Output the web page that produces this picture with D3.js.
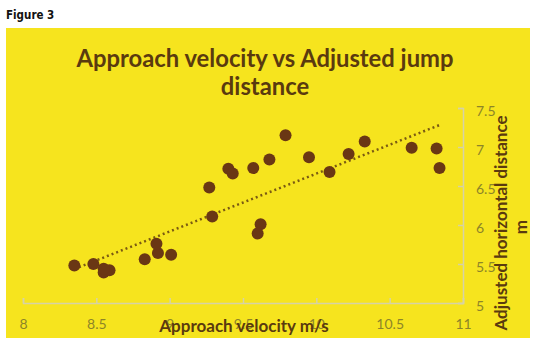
<!DOCTYPE html>
<html>
<head>
<meta charset="utf-8">
<script src="https://cdn.jsdelivr.net/npm/d3@7"></script>
<style>
html,body{margin:0;padding:0;background:#fff;}
svg{display:block;}
</style>
</head>
<body>
<svg id="chart" width="543" height="364"></svg>
<script>
// Data
const velocity = [8.35, 8.48, 8.55, 8.59, 8.55, 8.83, 8.92, 8.91, 9.01, 9.27, 9.29, 9.40, 9.43, 9.57, 9.68, 9.62, 9.60, 9.79, 9.95, 10.09, 10.22, 10.33, 10.65, 10.82, 10.84];
const distance = [5.48, 5.50, 5.39, 5.42, 5.44, 5.56, 5.64, 5.76, 5.62, 6.48, 6.11, 6.72, 6.66, 6.73, 6.84, 6.01, 5.89, 7.15, 6.87, 6.68, 6.91, 7.07, 6.99, 6.98, 6.73];
const xTicks = [8, 8.5, 9, 9.5, 10, 10.5, 11];
const yTicks = [5, 5.5, 6, 6.5, 7, 7.5];
const titleLines = ["Approach velocity vs Adjusted jump", "distance"];
const xTitle = "Approach velocity m/s";
const yTitle = "Adjusted horizontal distance";
const yUnit = "m";

const svg = d3.select("#chart");
const yellow = "#f6e41e";
const brown = "#6a3714";
const titleColor = "#5a3a0f";
const tickColor = "#8d8428";
const axisColor = "#d6d2a6";
const font = "Lato, 'Open Sans', sans-serif";

svg.append("text").attr("x", 6).attr("y", 19)
  .attr("font-family", "'Liberation Sans Narrow','DejaVu Sans Condensed',sans-serif")
  .attr("font-weight", "bold").attr("font-size", 11.5).attr("fill", "#111")
  .text("Figure 3");

svg.append("rect").attr("x", 6).attr("y", 28).attr("width", 524).attr("height", 310).attr("fill", yellow);

const x = d3.scaleLinear().domain([8, 11]).range([23, 463]);
const y = d3.scaleLinear().domain([5, 7.5]).range([303, 108]);

// title
const t = svg.append("text").attr("text-anchor", "middle")
  .attr("font-family", font).attr("font-weight", "bold")
  .attr("font-size", 23.8).attr("fill", titleColor);
titleLines.forEach((l, i) => t.append("tspan").attr("x", 265).attr("y", 67 + i * 28).text(l));

// x axis
const xAxis = svg.append("g").attr("transform", "translate(0,303)")
  .call(d3.axisBottom(x).tickValues(xTicks).tickSize(-5).tickFormat(d3.format("")));
xAxis.select(".domain").attr("stroke", axisColor).attr("stroke-width", 1.5);
xAxis.selectAll(".tick line").attr("stroke", axisColor).attr("stroke-width", 1.5);
xAxis.selectAll(".tick text").attr("font-family", font)
  .attr("font-size", 14).attr("fill", tickColor).attr("dy", "0.71em").attr("y", 16);

// y axis on right
const yAxis = svg.append("g").attr("transform", "translate(463,0)")
  .call(d3.axisRight(y).tickValues(yTicks).tickSize(-5).tickPadding(13).tickFormat(d3.format("")));
yAxis.select(".domain").attr("stroke", axisColor).attr("stroke-width", 1.5);
yAxis.selectAll(".tick line").attr("stroke", axisColor).attr("stroke-width", 1.5);
yAxis.selectAll(".tick text").attr("font-family", font)
  .attr("font-size", 14).attr("fill", tickColor).attr("dy", "0.55em");

// trendline (least squares)
const n = velocity.length;
const mx = d3.mean(velocity), my = d3.mean(distance);
let sxy = 0, sxx = 0;
for (let i = 0; i < n; i++) { sxy += (velocity[i] - mx) * (distance[i] - my); sxx += (velocity[i] - mx) ** 2; }
const slope = sxy / sxx, icpt = my - slope * mx;
const [x0, x1] = d3.extent(velocity);
svg.append("line")
  .attr("x1", x(x0)).attr("y1", y(icpt + slope * x0))
  .attr("x2", x(x1)).attr("y2", y(icpt + slope * x1))
  .attr("stroke", "#7a5a12").attr("stroke-width", 2.5)
  .attr("stroke-dasharray", "2,3");

// points
svg.append("g").selectAll("circle").data(velocity).join("circle")
  .attr("cx", (d) => x(d)).attr("cy", (d, i) => y(distance[i])).attr("r", 6)
  .attr("fill", brown);

// axis titles
svg.append("text").attr("x", 244).attr("y", 332).attr("text-anchor", "middle")
  .attr("font-family", font).attr("font-weight", "bold")
  .attr("font-size", 17).attr("fill", titleColor).text(xTitle);

svg.append("text").attr("transform", "translate(507,223) rotate(-90)").attr("text-anchor", "middle")
  .attr("font-family", font).attr("font-weight", "bold")
  .attr("font-size", 17).attr("fill", titleColor).text(yTitle);
svg.append("text").attr("transform", "translate(527,227) rotate(-90)").attr("text-anchor", "middle")
  .attr("font-family", font).attr("font-weight", "bold")
  .attr("font-size", 17).attr("fill", titleColor).text(yUnit);
</script>
</body>
</html>
